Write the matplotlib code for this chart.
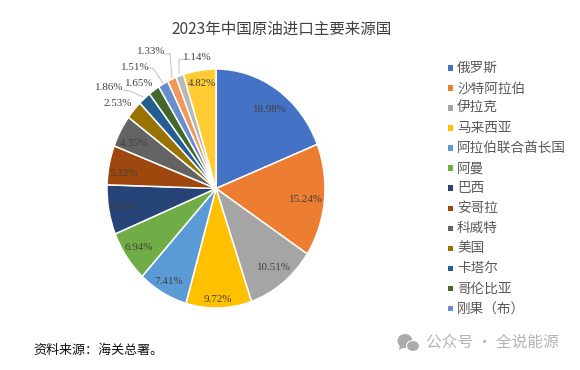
import matplotlib
matplotlib.use("Agg")
import matplotlib.pyplot as plt
from matplotlib.patches import Ellipse, Polygon

plt.rcParams['font.family'] = ['Noto Sans CJK SC', 'DejaVu Sans']

# Data
title = "2023年中国原油进口主要来源国"
source = "资料来源\uff1a海关总署。"
watermark = "公众号 · 全说能源"
countries = ["俄罗斯", "沙特阿拉伯", "伊拉克", "马来西亚", "阿拉伯联合酋长国", "阿曼", "巴西",
             "安哥拉", "科威特", "美国", "卡塔尔", "哥伦比亚", "刚果\uff08布\uff09"]
shares = [18.98, 15.24, 10.51, 9.72, 7.41, 6.94, 6.69, 5.32, 4.35, 2.53, 1.86, 1.65, 1.51, 1.33, 1.14, 4.82]
colors = ["#4472C4", "#ED7D31", "#A5A5A5", "#FFC000", "#5B9BD5", "#70AD47", "#264478", "#9E480E",
          "#636363", "#997300", "#255E91", "#43682B", "#698ED0", "#F1975A", "#B7B7B7", "#FFCD33"]

# Layout in picture pixels
label_xy = [(270, 110), (306, 199), (274, 268), (218, 299), (169, 281), (139, 247), (123, 207), (124, 173),
            (134, 143), (118, 104), (109, 88), (139, 83), (135, 67), (151, 52), (197, 58), (202, 83)]
leaders = [[(123, 90), (130, 91), (143, 97)],
           [(148, 68), (153, 68), (163, 83)],
           [(165, 54), (170, 54), (172, 78)],
           [(184, 59), (179, 60), (179, 73)]]
W, H = 580, 370

fig = plt.figure(figsize=(W / 100, H / 100), dpi=100, facecolor="white")

# Pie is stretched vertically in the source, so the axes box sets the ellipse
left, right, top, bottom = 107, 325, 69, 308
ax = fig.add_axes([left / W, 1 - bottom / H, (right - left) / W, (bottom - top) / H])
wedges, _ = ax.pie(shares, colors=colors, startangle=90, counterclock=False, radius=1,
                   wedgeprops={"edgecolor": "white", "linewidth": 1.1})
ax.set_aspect("auto")
ax.set_xlim(-1, 1)
ax.set_ylim(-1, 1)

# Overlay in pixel coordinates for text and leader lines
ov = fig.add_axes([0, 0, 1, 1])
ov.set_xlim(0, W)
ov.set_ylim(H, 0)
ov.axis("off")

for v, (x, y) in zip(shares, label_xy):
    ov.text(x, y, f"{v:.2f}%", ha="center", va="center", fontsize=7.9,
            family="Liberation Serif", color="#404040")

for pts in leaders:
    ov.plot([p[0] for p in pts], [p[1] for p in pts], color="#BFBFBF", lw=0.7)

ov.text(282, 29, title, ha="center", va="center", fontsize=11.2, color="#404040", fontweight="medium")
ov.text(33, 350, source, ha="left", va="center", fontsize=9.4, color="#111111")

# Legend
y0, step = 68, 20.03
for i, name in enumerate(countries):
    y = y0 + i * step
    ov.add_patch(Polygon([(448, y - 2.7), (453, y - 2.7), (453, y + 2.7), (448, y + 2.7)], color=colors[i], lw=0))
    ov.text(457, y, name, ha="left", va="center", fontsize=9.8, color="#595959")

# Watermark with the chat icon
ov.add_patch(Ellipse((405, 341), 15, 14, color="#ABABAB", lw=0))
ov.add_patch(Polygon([(400, 345), (399, 350), (405, 347)], color="#ABABAB", lw=0))
ov.add_patch(Ellipse((413, 346), 13, 11, color="#ABABAB", ec="white", lw=0.8))
ov.text(426, 342, watermark, ha="left", va="center", fontsize=11.3, color="#B4B4B4")

fig.savefig("out.png", dpi=100)
